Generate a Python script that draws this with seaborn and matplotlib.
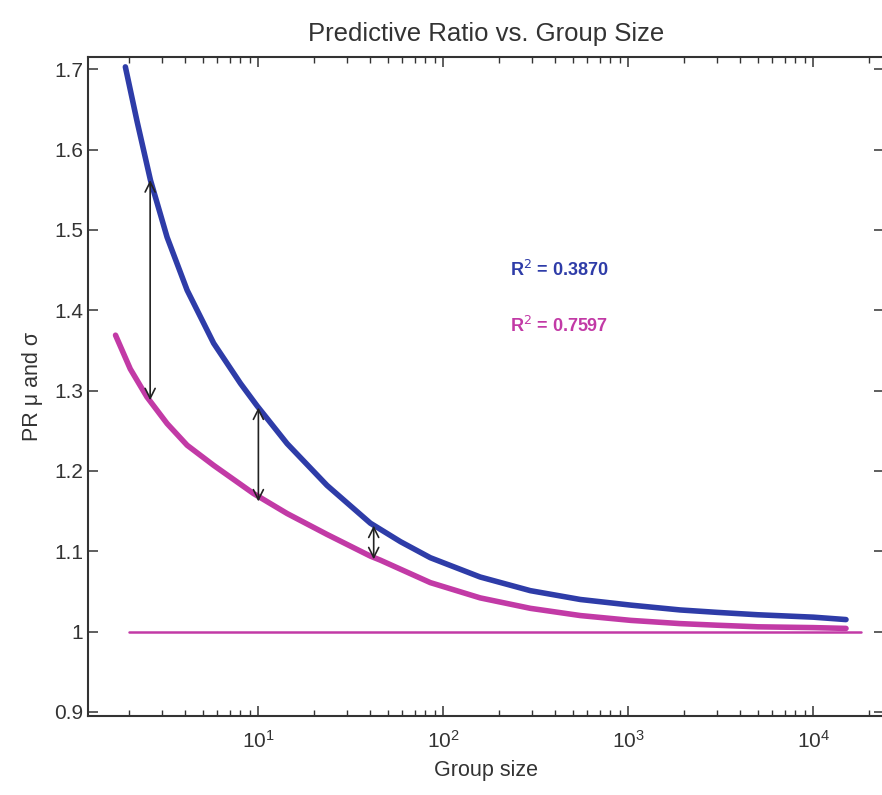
import numpy as np
import pandas as pd
import matplotlib
matplotlib.use("Agg")
import matplotlib.pyplot as plt
from matplotlib.ticker import FuncFormatter, LogLocator
import seaborn as sns

# === DATA ===
group_mu = [1.91, 2.21, 2.61, 3.21, 4.12, 5.73, 8.0, 9.84, 14.3, 23.5, 40.3,
            58.6, 85, 158, 295, 550, 1030, 1900, 3000, 5000, 10000, 15000]
pr_mu = [1.703, 1.635, 1.562, 1.491, 1.425, 1.359, 1.309, 1.281, 1.234, 1.182,
         1.135, 1.112, 1.092, 1.068, 1.051, 1.040, 1.033, 1.027, 1.024, 1.021,
         1.018, 1.015]

group_sigma = [1.69, 2.03, 2.50, 3.21, 4.12, 5.73, 9.4, 14.3, 23.5, 40.3, 45.6,
               85, 158, 295, 550, 1030, 1900, 3000, 5000, 10000, 15000]
pr_sigma = [1.369, 1.327, 1.292, 1.259, 1.232, 1.207, 1.172, 1.147, 1.121,
            1.094, 1.089, 1.061, 1.042, 1.029, 1.020, 1.014, 1.010, 1.008,
            1.006, 1.005, 1.004]

baseline_x = [2, 18000]
baseline_y = [1, 1]

# gaps marked with double arrows: x, top, bottom
arrow_x = [2.6, 10, 42]
arrow_top = [1.562, 1.279, 1.132]
arrow_bottom = [1.288, 1.162, 1.090]

r2_labels = ['R$^{2}$ = 0.3870', 'R$^{2}$ = 0.7597']
r2_y = [1.45, 1.381]

BLUE = '#2e3ca8'
PINK = '#c23aa6'

sns.set_style("ticks")
plt.rcParams['font.family'] = ['Liberation Sans', 'DejaVu Sans']

fig = plt.figure(figsize=(8.82, 7.95), dpi=100)
ax = fig.add_axes([0.0998, 0.0994, 0.9022, 0.8286])

df_mu = pd.DataFrame({'x': group_mu, 'y': pr_mu})
df_sig = pd.DataFrame({'x': group_sigma, 'y': pr_sigma})
df_base = pd.DataFrame({'x': baseline_x, 'y': baseline_y})

sns.lineplot(data=df_base, x='x', y='y', color=PINK, lw=1.8, ax=ax)
sns.lineplot(data=df_sig, x='x', y='y', color=PINK, lw=4.0, ax=ax,
             solid_joinstyle='round', solid_capstyle='round')
sns.lineplot(data=df_mu, x='x', y='y', color=BLUE, lw=4.0, ax=ax,
             solid_joinstyle='round', solid_capstyle='round')

for x, t, b in zip(arrow_x, arrow_top, arrow_bottom):
    ax.annotate('', xy=(x, t), xytext=(x, b),
                arrowprops=dict(arrowstyle='<->', color='#222222', lw=1.2,
                                mutation_scale=18, shrinkA=0, shrinkB=0))

ax.text(228, r2_y[0], r2_labels[0], color=BLUE, fontsize=13, fontweight='bold',
        va='center', ha='left')
ax.text(228, r2_y[1], r2_labels[1], color=PINK, fontsize=13, fontweight='bold',
        va='center', ha='left')

ax.set_xscale('log')
ax.set_xlim(1.2, 2.4e4)
ax.set_ylim(0.895, 1.715)
ax.set_yticks([0.9, 1.0, 1.1, 1.2, 1.3, 1.4, 1.5, 1.6, 1.7])
ax.yaxis.set_major_formatter(FuncFormatter(lambda v, p: f"{v:g}"))
ax.xaxis.set_major_locator(LogLocator(base=10, numticks=10))
ax.xaxis.set_minor_locator(LogLocator(base=10, subs=np.arange(2, 10), numticks=50))

for s in ax.spines.values():
    s.set_visible(True)
    s.set_linewidth(1.5)
    s.set_color('#333333')
ax.tick_params(which='both', direction='in', top=True, right=True, colors='#333333',
               labelcolor='#333333', labelsize=15)
ax.tick_params(which='major', length=7, width=1.1)
ax.tick_params(which='minor', length=4, width=1.0)
ax.tick_params(axis='x', which='major', pad=10)

ax.set_title('Predictive Ratio vs. Group Size', fontsize=18.5, pad=12, color='#333333')
ax.set_xlabel('Group size', fontsize=15.5, labelpad=6, color='#333333')
ax.set_ylabel('PR μ and σ', fontsize=15.5, labelpad=8, color='#333333')

fig.savefig('out.png', dpi=100)
